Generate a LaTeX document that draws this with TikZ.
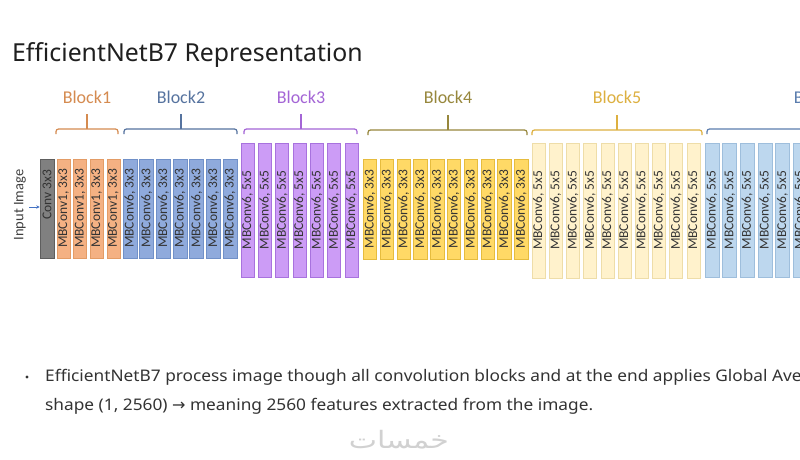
\documentclass[tikz,border=0pt]{standalone}
\usepackage{fontspec}
\setmainfont{Carlito}
\newfontfamily\titlefont{Noto Sans}
\newfontfamily\bodyfont[FakeStretch=1.08]{Noto Sans}
\newfontfamily\symfont{DejaVu Sans}
\newfontfamily\arabicfont[Script=Arabic]{DejaVu Sans}
\TeXXeTstate=1
\usetikzlibrary{arrows.meta}
\definecolor{czf}{HTML}{808080}\definecolor{czl}{HTML}{5E5E5E}
\definecolor{caf}{HTML}{F4B183}\definecolor{cal}{HTML}{E39C66}\definecolor{cab}{HTML}{D58B50}
\definecolor{cbf}{HTML}{8FAADC}\definecolor{cbl}{HTML}{7090C8}\definecolor{cbb}{HTML}{56739F}
\definecolor{ccf}{HTML}{CC9CF6}\definecolor{ccl}{HTML}{A872DE}\definecolor{ccb}{HTML}{A465D6}
\definecolor{cdf}{HTML}{FFD966}\definecolor{cdl}{HTML}{E6BC3E}\definecolor{cdb}{HTML}{97873C}
\definecolor{cef}{HTML}{FFF2CC}\definecolor{cel}{HTML}{EEDDA8}\definecolor{ceb}{HTML}{DDB040}
\definecolor{cff}{HTML}{BDD7EE}\definecolor{cfl}{HTML}{9EBEDC}\definecolor{cfb}{HTML}{5B7DAE}
\definecolor{txt}{HTML}{333333}
\definecolor{arr}{HTML}{4472C4}
\begin{document}
\begin{tikzpicture}[x=1pt,y=-1pt,
  box/.style={rotate=90, line width=0.6pt, inner sep=0pt, text=txt,
    font=\fontsize{13.5}{15}\selectfont},
  blkA/.style={box, fill=caf, draw=cal, minimum width=99pt, minimum height=13pt},
  blkB/.style={box, fill=cbf, draw=cbl, minimum width=99pt, minimum height=14pt},
  blkC/.style={box, fill=ccf, draw=ccl, minimum width=134pt, minimum height=13pt},
  blkD/.style={box, fill=cdf, draw=cdl, minimum width=100pt, minimum height=13.5pt},
  blkE/.style={box, fill=cef, draw=cel, minimum width=135pt, minimum height=13pt},
  blkF/.style={box, fill=cff, draw=cfl, minimum width=134pt, minimum height=14pt},
  brace/.style={line width=1.2pt, rounded corners=2.5pt},
  blabel/.style={font=\fontsize{18}{20}\selectfont, inner sep=0pt},
  bodytext/.style={anchor=base west, inner sep=0pt, text=txt, font=\bodyfont\fontsize{16}{19}\selectfont}
]
\useasboundingbox (0,0) rectangle (800,460);
\clip (0,0) rectangle (800,460);
\fill[white] (0,0) rectangle (800,460);

% title
\node[anchor=base west, inner sep=0pt, text=black!88, font=\titlefont\fontsize{24.8}{28}\selectfont] (title) at (12,62) {EfficientNetB7 Representation};

% input
\node[rotate=90, inner sep=0pt, text=black!75, font=\fontsize{14.5}{16}\selectfont] (inlab) at (20,205) {Input Image};
\node[box, fill=czf, draw=czl, minimum width=99pt, minimum height=14pt] (conv) at (47,208.5) {};
\node[box, inner sep=0pt] (convlab) at (47,195) {Conv 3x3};
\coordinate (ia) at (29,207);
\draw[-{Stealth[length=3.5pt,width=3.5pt]}, color=arr, line width=0.9pt] (ia) -- (conv.north |- ia);

% blocks
\foreach \i in {0,...,3} \node[blkA] (a\i) at ({63.5+16.6*\i},208.5) {MBConv1, 3x3};
\foreach \i in {0,...,6} \node[blkB] (b\i) at ({130+16.67*\i},208.5) {MBConv6, 3x3};
\foreach \i in {0,...,6} \node[blkC] (c\i) at ({247.5+17.33*\i},210) {MBConv6, 5x5};
\foreach \i in {0,...,9} \node[blkD] (d\i) at ({370+16.8*\i},209) {MBConv6, 3x3};
\foreach \i in {0,...,9} \node[blkE] (e\i) at ({538.5+17.2*\i},210.5) {MBConv6, 5x5};
\foreach \i in {0,...,5} \node[blkF] (f\i) at ({712+17.6*\i},210) {MBConv6, 5x5};

% braces and labels
\foreach \xa/\xb/\xc/\col/\lab/\nm/\ly in {56/118/87/cab/Block1/A/129, 124/237/181/cbb/Block2/B/129, 244/357/301/ccb/Block3/C/129, 368/527/448/cdb/Block4/D/130, 532/702/617/ceb/Block5/E/130, 707/840/818/cfb/Block6/F/129}{
  \draw[brace, draw=\col] (\xa,\ly+5) -- (\xa,\ly) -- (\xb,\ly) -- (\xb,\ly+5);
  \draw[line width=1.2pt, draw=\col] (\xc,\ly) -- (\xc,\ly-15);
  \node[blabel, text=\col] (lab\nm) at (\xc,97) {\lab};
}

% bottom text
\node[circle, fill=txt, inner sep=0pt, minimum size=3.2pt] (bul) at (27,377) {};
\node[bodytext] (l1) at (45,381) {EfficientNetB7 process image though all convolution blocks and at the end applies Global Ave};
\node[bodytext] (l2) at (45,410) {shape (1, 2560) {\symfont →} meaning 2560 features extracted from the image.};

% watermark
\node[inner sep=0pt, text=black!18, font=\arabicfont\fontsize{24}{26}\selectfont] (wm) at (399,440) {\scalebox{1.25}[1]{\beginR خمسات\endR}};
\end{tikzpicture}
\end{document}
